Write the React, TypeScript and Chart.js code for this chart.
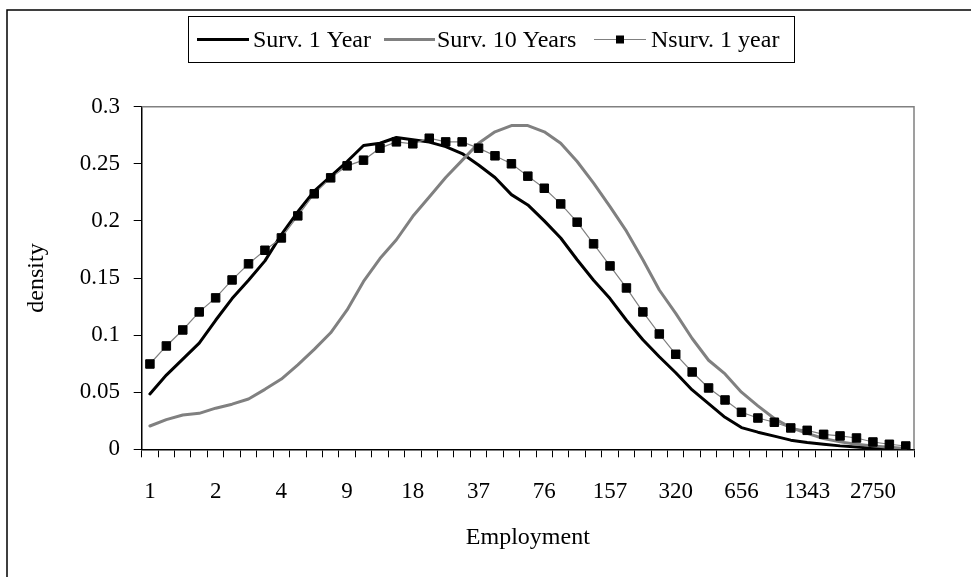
import React, { useEffect, useRef } from "react";
import { Chart, registerables } from "chart.js";

Chart.register(...registerables);

// ---- data ----
const categories = [
  "1", "", "", "", "2", "", "", "", "4", "", "", "", "9", "", "", "",
  "18", "", "", "", "37", "", "", "", "76", "", "", "", "157", "", "", "",
  "320", "", "", "", "656", "", "", "", "1343", "", "", "", "2750", "", "",
];

const surv1Year = [
  0.0485, 0.065, 0.079, 0.093, 0.113, 0.132, 0.148, 0.165, 0.188, 0.208,
  0.226, 0.239, 0.252, 0.266, 0.268, 0.273, 0.271, 0.269, 0.265, 0.259,
  0.249, 0.238, 0.223, 0.214, 0.2, 0.185, 0.166, 0.148, 0.132, 0.113,
  0.096, 0.081, 0.067, 0.052, 0.04, 0.028, 0.019, 0.015, 0.0115, 0.008,
  0.006, 0.0045, 0.003, 0.002, 0.001, 0.0005, 0.0,
];

const surv10Years = [
  0.0204, 0.026, 0.03, 0.0315, 0.036, 0.0395, 0.044, 0.0525, 0.0615, 0.074,
  0.0875, 0.102, 0.122, 0.147, 0.167, 0.1835, 0.204, 0.221, 0.238, 0.253,
  0.268, 0.278, 0.2835, 0.2835, 0.278, 0.268, 0.252, 0.233, 0.2125, 0.191,
  0.166, 0.1395, 0.119, 0.097, 0.078, 0.066, 0.05, 0.038, 0.027, 0.019,
  0.014, 0.0095, 0.0065, 0.0045, 0.003, 0.0018, 0.0006,
];

const nsurv1Year = [
  0.0747, 0.0905, 0.1045, 0.1203, 0.1326, 0.1483, 0.1624, 0.1743, 0.1851, 0.2044,
  0.2237, 0.2377, 0.2482, 0.2532, 0.2637, 0.2692, 0.2675, 0.2724, 0.2692, 0.2692,
  0.2637, 0.257, 0.25, 0.2392, 0.2286, 0.2149, 0.1989, 0.1799, 0.1606, 0.1413,
  0.1203, 0.101, 0.0832, 0.0677, 0.0537, 0.0432, 0.0324, 0.0274, 0.0237, 0.0187,
  0.0166, 0.0131, 0.0117, 0.0099, 0.0064, 0.0044, 0.0029,
];

const seriesNames = ["Surv. 1 Year", "Surv. 10 Years", "Nsurv. 1 year"];
const xTitle = "Employment";
const yTitle = "density";

const FONT = "'Liberation Serif', 'Times New Roman', serif";
const GRAY = "#808080";

const framePlugin = {
  id: "frame",
  beforeDraw(chart: any) {
    const ctx = chart.ctx;
    ctx.save();
    ctx.fillStyle = "#fff";
    ctx.fillRect(0, 0, chart.width, chart.height);
    ctx.strokeStyle = "#000";
    ctx.lineWidth = 1.5;
    ctx.beginPath();
    ctx.moveTo(7, chart.height + 5);
    ctx.lineTo(7, 10);
    ctx.lineTo(chart.width + 5, 10);
    ctx.stroke();
    ctx.restore();
  },
  beforeDatasetsDraw(chart: any) {
    const { ctx, chartArea } = chart;
    ctx.save();
    ctx.strokeStyle = GRAY;
    ctx.lineWidth = 1.5;
    ctx.beginPath();
    ctx.moveTo(chartArea.left, chartArea.top);
    ctx.lineTo(chartArea.right, chartArea.top);
    ctx.lineTo(chartArea.right, chartArea.bottom);
    ctx.stroke();
    ctx.restore();
  },
  afterDraw(chart: any) {
    const ctx = chart.ctx;
    ctx.save();
    ctx.strokeStyle = "#000";
    ctx.lineWidth = 1;
    ctx.strokeRect(188.5, 16.5, 606, 46);
    const cy = 39.5;
    const items = [
      { x0: 197, x1: 249, tx: 253, color: "#000", w: 3, marker: false },
      { x0: 384, x1: 435, tx: 437, color: GRAY, w: 3, marker: false },
      { x0: 594, x1: 646, tx: 651, color: GRAY, w: 1.2, marker: true },
    ];
    ctx.font = `24px ${FONT}`;
    ctx.textBaseline = "middle";
    ctx.textAlign = "left";
    items.forEach((it, i) => {
      ctx.strokeStyle = it.color;
      ctx.lineWidth = it.w;
      ctx.beginPath();
      ctx.moveTo(it.x0, cy);
      ctx.lineTo(it.x1, cy);
      ctx.stroke();
      if (it.marker) {
        ctx.fillStyle = "#000";
        const mx = (it.x0 + it.x1) / 2;
        ctx.fillRect(mx - 4, cy - 4, 8, 8);
      }
      ctx.fillStyle = "#000";
      ctx.fillText(seriesNames[i], it.tx, cy + 1);
    });
    ctx.restore();
  },
};

export default function App() {
  const ref = useRef<HTMLCanvasElement | null>(null);

  useEffect(() => {
    if (!ref.current) return;
    const chart = new Chart(ref.current, {
      type: "line",
      data: {
        labels: categories,
        datasets: [
          {
            label: seriesNames[0],
            data: surv1Year,
            borderColor: "#000",
            backgroundColor: "#000",
            borderWidth: 3,
            pointRadius: 0,
            tension: 0,
            borderJoinStyle: "round",
            borderCapStyle: "round",
            order: 2,
          },
          {
            label: seriesNames[1],
            data: surv10Years,
            borderColor: GRAY,
            backgroundColor: GRAY,
            borderWidth: 3,
            pointRadius: 0,
            tension: 0,
            borderJoinStyle: "round",
            borderCapStyle: "round",
            order: 1,
          },
          {
            label: seriesNames[2],
            data: nsurv1Year,
            borderColor: GRAY,
            backgroundColor: "#000",
            borderWidth: 1.2,
            pointStyle: "rect",
            pointRadius: 6,
            pointBackgroundColor: "#000",
            pointBorderColor: "#000",
            pointBorderWidth: 1,
            tension: 0,
            order: 0,
          },
        ],
      },
      options: {
        responsive: false,
        animation: false,
        events: [],
        layout: { padding: { left: 0, top: 106.7, right: 57, bottom: 0 } },
        plugins: {
          legend: { display: false },
          tooltip: { enabled: false },
          title: { display: false },
        },
        scales: {
          x: {
            type: "category",
            offset: true,
            afterFit: (s: any) => {
              s.height = 127.7;
            },
            grid: {
              offset: true,
              drawOnChartArea: false,
              drawTicks: true,
              tickLength: 8,
              tickColor: "#000",
              tickWidth: 1,
            },
            border: { display: true, color: "#000", width: 1.5 },
            ticks: {
              autoSkip: false,
              maxRotation: 0,
              minRotation: 0,
              padding: 20.9,
              color: "#000",
              font: { family: FONT, size: 23 },
            },
            title: {
              display: true,
              text: xTitle,
              color: "#000",
              font: { family: FONT, size: 24 },
              padding: { top: 0, bottom: 24.6 },
            },
          },
          y: {
            min: 0,
            max: 0.3,
            afterFit: (s: any) => {
              s.width = 141.7;
            },
            grid: {
              drawOnChartArea: false,
              drawTicks: true,
              tickLength: 8,
              tickColor: "#000",
              tickWidth: 1,
            },
            border: { display: true, color: "#000", width: 1.5 },
            ticks: {
              stepSize: 0.05,
              padding: 13.7,
              color: "#000",
              font: { family: FONT, size: 23 },
              callback: (v: any) => String(Number(Number(v).toFixed(2))),
            },
            title: {
              display: true,
              text: yTitle,
              color: "#000",
              font: { family: FONT, size: 24 },
              padding: { top: 22.6, bottom: 0 },
            },
          },
        },
      },
      plugins: [framePlugin],
    } as any);
    return () => chart.destroy();
  }, []);

  return (
    <div
      style={{
        position: "fixed",
        left: 0,
        top: 0,
        width: 971,
        height: 577,
        overflow: "hidden",
        background: "#fff",
      }}
    >
      <canvas ref={ref} width={971} height={577} style={{ display: "block", width: 971, height: 577 }} />
    </div>
  );
}
